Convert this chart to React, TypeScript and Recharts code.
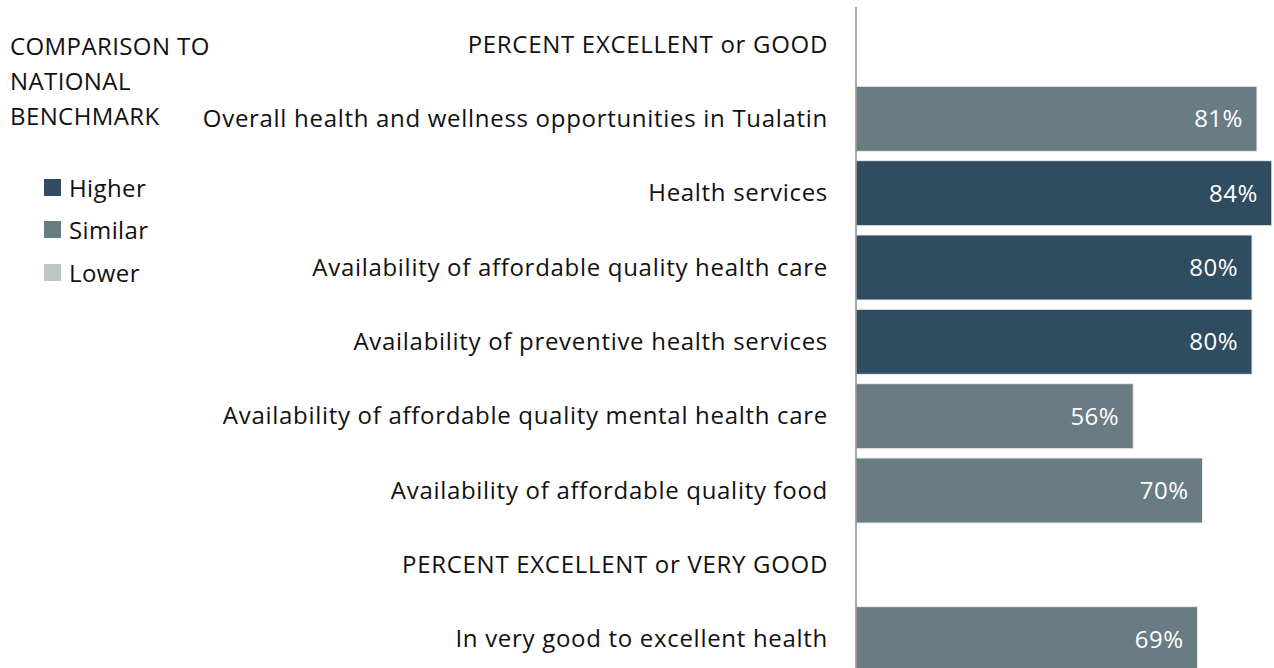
import React from 'react'
import { BarChart, Bar, XAxis, YAxis, Cell, LabelList } from 'recharts'

const categories = [
  'PERCENT EXCELLENT or GOOD',
  'Overall health and wellness opportunities in Tualatin',
  'Health services',
  'Availability of affordable quality health care',
  'Availability of preventive health services',
  'Availability of affordable quality mental health care',
  'Availability of affordable quality food',
  'PERCENT EXCELLENT or VERY GOOD',
  'In very good to excellent health'
]

const values: (number | null)[] = [null, 81, 84, 80, 80, 56, 70, null, 69]

const comparison: (string | null)[] = [null, 'Similar', 'Higher', 'Higher', 'Higher', 'Similar', 'Similar', null, 'Similar']

const legendItems = ['Higher', 'Similar', 'Lower']

const colors: Record<string, string> = {
  Higher: '#2f4c60',
  Similar: '#6a7c83',
  Lower: '#bcc5c8'
}

const FONT = '"Open Sans", sans-serif'

const rows = categories.map((name, i) => ({
  name,
  value: values[i],
  cmp: comparison[i]
}))

function Legend() {
  return (
    <div style={{ position: 'absolute', left: 10, top: 28, fontFamily: FONT, fontSize: 24, letterSpacing: 0.4, color: '#111', lineHeight: '35px' }}>
      <div>COMPARISON TO</div>
      <div>NATIONAL</div>
      <div>BENCHMARK</div>
      <div style={{ marginTop: 33, marginLeft: 34 }}>
        {legendItems.map((k) => (
          <div key={k} style={{ display: 'flex', alignItems: 'center', height: 42.5 }}>
            <span style={{ width: 17, height: 17, background: colors[k], display: 'inline-block', marginRight: 8 }} />
            <span>{k}</span>
          </div>
        ))}
      </div>
    </div>
  )
}

export default function App() {
  return (
    <div style={{ position: 'fixed', left: 0, top: 0, width: 1274, height: 668, overflow: 'hidden', background: '#fff' }}>
      <BarChart
        width={1351}
        height={676}
        data={rows}
        layout="vertical"
        margin={{ top: 7, right: 0, bottom: 0, left: 0 }}
        barSize={65}
      >
        <XAxis type="number" domain={[0, 100]} hide />
        <YAxis
          type="category"
          dataKey="name"
          width={856}
          tickLine={false}
          tickSize={0}
          tickMargin={28}
          axisLine={{ stroke: '#8c8c8c', strokeWidth: 1.5 }}
          tick={{ fill: '#111', fontSize: 24, fontFamily: FONT, letterSpacing: 0.7 }}
          interval={0}
        />
        <Bar dataKey="value" isAnimationActive={false} stroke="#e6eaec" strokeWidth={1}>
          {rows.map((r, i) => (
            <Cell key={i} fill={r.cmp ? colors[r.cmp] : 'transparent'} />
          ))}
          <LabelList
            dataKey="value"
            position="insideRight"
            offset={14}
            formatter={(v: any) => (v == null ? '' : `${v}%`)}
            style={{ fill: '#fff', fontSize: 24, fontFamily: FONT, letterSpacing: 0.5 }}
          />
        </Bar>
      </BarChart>
      <Legend />
    </div>
  )
}
